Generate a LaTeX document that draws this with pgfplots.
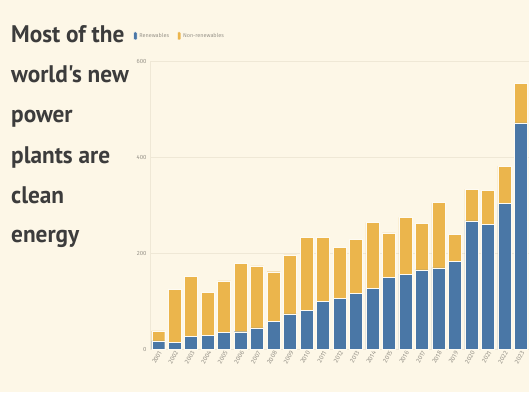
\documentclass[border=0pt]{standalone}
\usepackage{pgfplots}
\pgfplotsset{compat=1.18}
\usepackage{fontspec}
\setmainfont{Fira Sans}
\newfontfamily\titlefont[FakeStretch=0.97]{PT Sans Bold}
\definecolor{bg}{HTML}{FDF7E7}
\definecolor{renew}{HTML}{4A77A6}
\definecolor{nonrenew}{HTML}{EBB54C}
\definecolor{titlec}{HTML}{3C3C3C}
\definecolor{gridc}{HTML}{EFE8D6}
\definecolor{tickc}{HTML}{9A968C}
\begin{document}
\begin{tikzpicture}
\fill[bg] (0pt,0pt) rectangle (529pt,392pt);
\useasboundingbox (0pt,0pt) rectangle (529pt,392pt);
\begin{scope}[font=\titlefont\fontsize{24}{28}\selectfont, text=titlec]
\node[anchor=base west, inner sep=0pt] at (11pt,350pt) {Most of the};
\node[anchor=base west, inner sep=0pt] at (11pt,310pt) {world's new};
\node[anchor=base west, inner sep=0pt] at (11pt,270pt) {power};
\node[anchor=base west, inner sep=0pt] at (11pt,229pt) {plants are};
\node[anchor=base west, inner sep=0pt] at (11pt,189pt) {clean};
\node[anchor=base west, inner sep=0pt] at (11pt,150pt) {energy};
\end{scope}
\begin{axis}[
  at={(150pt,43pt)}, anchor=south west,
  scale only axis, width=379pt, height=288pt,
  ybar stacked, bar width=13pt,
  xmin=-0.5, xmax=22.5, ymin=0, ymax=600,
  xtick={0,...,22},
  xticklabels={2001,2002,2003,2004,2005,2006,2007,2008,2009,2010,2011,2012,2013,2014,2015,2016,2017,2018,2019,2020,2021,2022,2023},
  x tick label style={rotate=60, anchor=east, yshift=-3pt, font=\fontsize{6.5}{7}\selectfont, text=tickc, inner sep=1pt},
  ytick={0,200,400,600},
  y tick label style={font=\fontsize{6}{7}\selectfont, text=tickc},
  /pgf/number format/assume math mode=true,
  major tick length=0pt,
  ymajorgrids, grid style={gridc, line width=0.8pt},
  axis lines=left,
  x axis line style={draw=none},
  y axis line style={gridc, line width=0.8pt, -},
  axis background/.style={fill=bg},
  legend style={at={(axis description cs:-0.052,1.087)}, anchor=west, draw=none, fill=none,
    font=\fontsize{5.5}{6}\selectfont, text=tickc, legend columns=2,
    /tikz/every even column/.append style={column sep=6pt}},
  legend image code/.code={\fill[#1, rounded corners=1pt] (0pt,-4pt) rectangle (3.5pt,4pt);},
]
\addplot[fill=renew, draw=white!50!bg, line width=0.4pt] coordinates {
(0,17) (1,14) (2,26) (3,28) (4,34) (5,36) (6,44) (7,57) (8,73) (9,81) (10,99) (11,106)
(12,116) (13,126) (14,149) (15,156) (16,165) (17,169) (18,182) (19,267) (20,260) (21,303) (22,471)};
\addplot[fill=nonrenew, draw=white!50!bg, line width=0.4pt] coordinates {
(0,21) (1,111) (2,125) (3,90) (4,108) (5,142) (6,129) (7,104) (8,123) (9,152) (10,134) (11,106)
(12,113) (13,138) (14,93) (15,118) (16,97) (17,136) (18,57) (19,66) (20,70) (21,78) (22,83)};
\legend{Renewables, Non-renewables}
\end{axis}
\end{tikzpicture}
\end{document}
